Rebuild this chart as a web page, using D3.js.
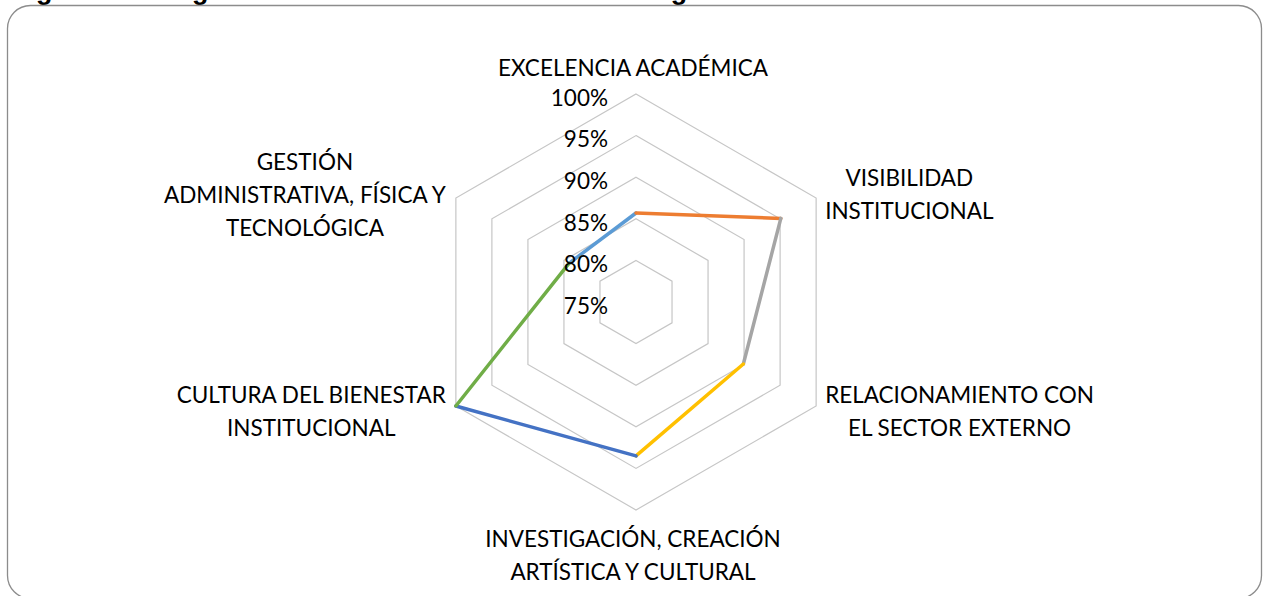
<!DOCTYPE html>
<html>
<head>
<meta charset="utf-8">
<script src="https://cdn.jsdelivr.net/npm/d3@7"></script>
<style>
  body { margin: 0; background: #fff; }
  svg { display: block; }
</style>
</head>
<body>
<svg id="chart" width="1263" height="596"></svg>
<script>
// ejes del radar (cada uno con sus lineas de texto)
const categories = [
    ["EXCELENCIA ACADÉMICA"],
    ["VISIBILIDAD", "INSTITUCIONAL"],
    ["RELACIONAMIENTO CON", "EL SECTOR EXTERNO"],
    ["INVESTIGACIÓN, CREACIÓN", "ARTÍSTICA Y CULTURAL"],
    ["CULTURA DEL BIENESTAR", "INSTITUCIONAL"],
    ["GESTIÓN", "ADMINISTRATIVA, FÍSICA Y", "TECNOLÓGICA"]
];
const values = [0.857, 0.951, 0.899, 0.935, 1.00, 0.843];
const ticks = [0.75, 0.80, 0.85, 0.90, 0.95, 1.00];
// color del tramo que llega a cada punto
const segmentColors = ["#5B9BD5", "#ED7D31", "#A5A5A5", "#FFC000", "#4472C4", "#70AD47"];
const titleText = "Figura 10. Progreso de las áreas misionales estratégicas";

const svg = d3.select("#chart");
const cx = 636, cy = 302, R = 208;
const lineH = 33;

const r = d3.scaleLinear().domain([0.75, 1]).range([0, R]);
const n = categories.length;
const angle = i => i * 2 * Math.PI / n;
const pt = (i, v) => [cx + r(v) * Math.sin(angle(i)), cy - r(v) * Math.cos(angle(i))];

// titulo cortado arriba (como en la imagen original)
svg.append("text")
    .attr("x", 12)
    .attr("y", -1.5)
    .attr("font-family", "Liberation Sans, Arial, sans-serif")
    .attr("font-weight", "bold")
    .attr("font-size", 27)
    .attr("fill", "#000")
    .text(titleText);

// marco
svg.append("rect")
    .attr("x", 7.5)
    .attr("y", 5.5)
    .attr("width", 1254)
    .attr("height", 593)
    .attr("rx", 23)
    .attr("fill", "none")
    .attr("stroke", "#8c8c8c")
    .attr("stroke-width", 1.3);

const g = svg.append("g");

const ring = d3.line().curve(d3.curveLinearClosed);

g.selectAll(".ring")
    .data(ticks.filter(t => t > ticks[0]))
    .enter().append("path")
    .attr("class", "ring")
    .attr("d", t => ring(d3.range(n).map(i => pt(i, t))))
    .attr("fill", "none")
    .attr("stroke", "#c6c6c6")
    .attr("stroke-width", 1.2);

// tramos de la serie
const segs = d3.range(n).map(i => {
    const prev = (i - 1 + n) % n;
    return { from: pt(prev, values[prev]), to: pt(i, values[i]), color: segmentColors[i] };
});

g.selectAll(".seg")
    .data(segs)
    .enter().append("line")
    .attr("class", "seg")
    .attr("x1", d => d.from[0])
    .attr("y1", d => d.from[1])
    .attr("x2", d => d.to[0])
    .attr("y2", d => d.to[1])
    .attr("stroke", d => d.color)
    .attr("stroke-width", 3.5)
    .attr("stroke-linecap", "round");

const font = "Lato, sans-serif";
const fontSize = 22.5;

// etiquetas de porcentaje
g.selectAll(".tick")
    .data(ticks)
    .enter().append("text")
    .attr("class", "tick")
    .attr("x", cx - 28)
    .attr("y", t => cy - r(t) + 4)
    .attr("dy", "0.35em")
    .attr("text-anchor", "end")
    .attr("font-family", font)
    .attr("font-size", fontSize)
    .attr("fill", "#000")
    .text(t => d3.format(".0%")(t));

// etiquetas de categorias
categories.forEach((lines, i) => {
    const a = angle(i);
    const [vx, vy] = pt(i, 1);
    const lab = g.append("text")
        .attr("font-family", font)
        .attr("font-size", fontSize)
        .attr("fill", "#000")
        .attr("text-anchor", "middle");
    const spans = lab.selectAll("tspan")
        .data(lines)
        .enter().append("tspan")
        .text(d => d);
    const maxW = d3.max(spans.nodes(), s => s.getComputedTextLength());

    let x, y0;
    const s = Math.sin(a);
    if (Math.abs(s) < 0.01) {
        x = vx - 3;
        if (Math.cos(a) > 0) {
            y0 = vy - 18 - (lines.length - 1) * lineH;
        } else {
            y0 = vy + 37;
        }
    } else {
        x = s > 0 ? vx + 9 + maxW / 2 : vx - 10 - maxW / 2;
        const yc = vy - Math.cos(a) * 9 + 1.5;
        y0 = yc - (lines.length - 1) * lineH / 2 + 7.5;
    }
    spans.attr("x", x).attr("y", (d, j) => y0 + j * lineH);
});
</script>
</body>
</html>
